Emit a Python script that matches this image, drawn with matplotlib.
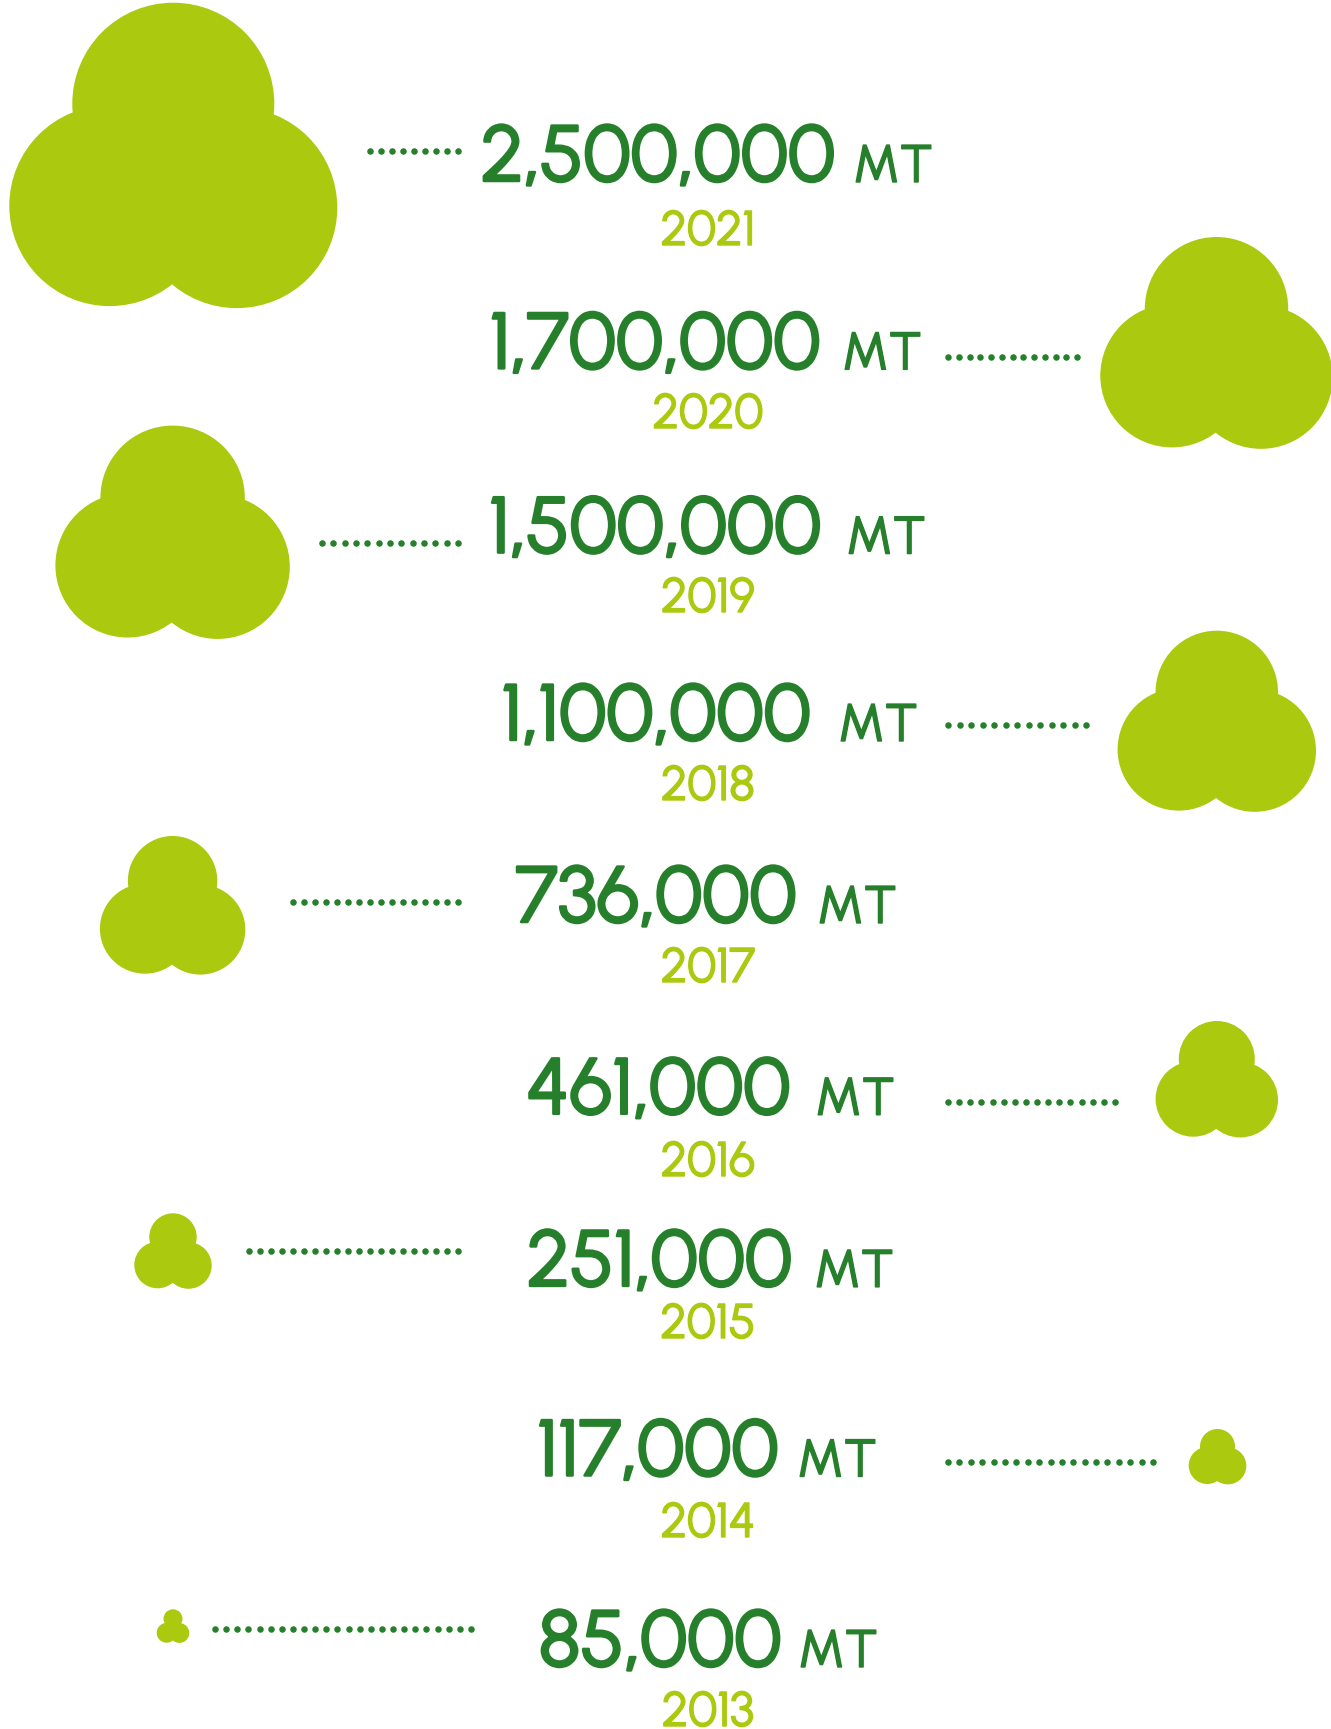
import matplotlib
matplotlib.use("Agg")
import matplotlib.pyplot as plt
import matplotlib.patheffects as pe
from matplotlib.patches import Circle
import numpy as np

# ---------- Data ----------
years = [2021, 2020, 2019, 2018, 2017, 2016, 2015, 2014, 2013]
tonnes = [2500000, 1700000, 1500000, 1100000, 736000, 461000, 251000, 117000, 85000]
unit = "MT"

# ---------- Layout, in pixels of the 1331x1729 picture ----------
clover_x = [173.3, 1216.5, 172.6, 1216.8, 172.6, 1216.8, 173, 1217.5, 173]
clover_top = [2.7, 237, 425.6, 630.7, 836, 1021, 1213.3, 1429, 1609.3]
clover_r = [101, 71.7, 72.2, 61.2, 44.7, 38, 23.7, 17.5, 9.5]
lobe_r = [100.4, 71.7, 72.2, 61.2, 45, 37.7, 23.3, 18.5, 9.9]
lobe_dx = [63.6, 44.5, 45, 38, 27.7, 23.5, 15.4, 10.3, 6.4]
lobe_dy = [102, 67, 67.5, 57.5, 48, 40, 28, 19, 14]

dots_start = [370, 948, 322, 948, 293, 948, 249, 948, 215]
dots_end = [458, 1077, 458, 1086, 458, 1115, 458, 1153, 471]
dots_y = [151, 357, 542.5, 724.5, 902, 1101.6, 1250.5, 1462, 1628.7]

number_x = [657.8, 655, 655, 656, 656, 658.3, 659.4, 657.8, 660]
unit_left = [853, 842, 846, 838, 817, 815, 814, 797, 798]
number_base = [181, 368.4, 552.6, 740, 922, 1113.8, 1285.9, 1475.5, 1666]
year_base = [245, 428, 612, 800, 982, 1176, 1338, 1537, 1726]
year_x = 708

LIME = "#abc90f"
GREEN = "#267f2a"
FONT = ["Urbanist", "Roboto"]


# Urbanist comes out lighter than the reference, so thicken the strokes a bit
def thick(width, colour):
    return [pe.withStroke(linewidth=width, foreground=colour)]


fig = plt.figure(figsize=(13.31, 17.29), dpi=100, facecolor="white")
ax = fig.add_axes([0, 0, 1, 1])
ax.set_xlim(0, 1331)
ax.set_ylim(1729, 0)
ax.axis("off")

for i in range(len(years)):
    # Three overlapping circles make up each clover
    r = clover_r[i]
    top_y = clover_top[i] + r
    ax.add_patch(Circle((clover_x[i], top_y), r, fc=LIME, ec="none"))
    ax.add_patch(Circle((clover_x[i] - lobe_dx[i], top_y + lobe_dy[i]), lobe_r[i], fc=LIME, ec="none"))
    ax.add_patch(Circle((clover_x[i] + lobe_dx[i], top_y + lobe_dy[i] + 0.02 * r), lobe_r[i], fc=LIME, ec="none"))

    # Dotted leader line
    n_dots = round((dots_end[i] - dots_start[i]) / 11.2) + 1
    xs = np.linspace(dots_start[i], dots_end[i], n_dots)
    ax.scatter(xs, np.full(n_dots, dots_y[i]), s=22, color=GREEN, linewidths=0)

    ax.text(number_x[i], number_base[i], f"{tonnes[i]:,}", ha="center", va="baseline",
            fontsize=57, family=FONT, color=GREEN, path_effects=thick(1.8, GREEN))
    ax.text(unit_left[i], number_base[i] + 1, unit, ha="left", va="baseline",
            fontsize=38, family=FONT, color=GREEN, path_effects=thick(1.0, GREEN))
    ax.text(year_x, year_base[i], str(years[i]), ha="center", va="baseline",
            fontsize=35, family=FONT, color=LIME, path_effects=thick(1.0, LIME))

fig.savefig("out.png", dpi=100)
